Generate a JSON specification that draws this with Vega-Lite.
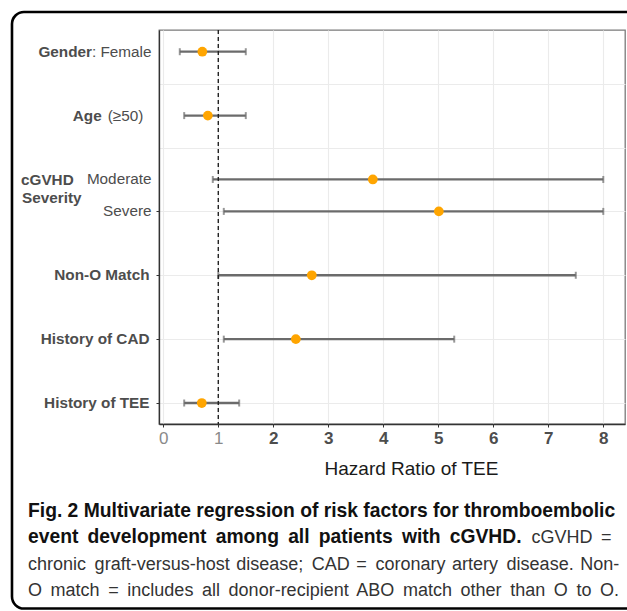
{
  "$schema": "https://vega.github.io/schema/vega-lite/v6.json",
  "width": 466,
  "height": 394,
  "autosize": {"type": "none"},
  "padding": {"left": 159, "top": 30, "right": 2, "bottom": 187},
  "background": "white",
  "config": {
    "view": {"stroke": "#7a7a7a", "strokeWidth": 1.3},
    "font": "Liberation Sans, Arial, sans-serif"
  },
  "data": {
    "values": [
      {"group": "Gender", "level": ": Female", "row": 12, "hr": 0.71, "lo": 0.30, "hi": 1.50},
      {"group": "Age", "level": "(≥50)", "row": 10, "hr": 0.81, "lo": 0.38, "hi": 1.50},
      {"group": "cGVHD Severity", "level": "Moderate", "row": 8, "hr": 3.81, "lo": 0.90, "hi": 8.0},
      {"group": "cGVHD Severity", "level": "Severe", "row": 7, "hr": 5.01, "lo": 1.10, "hi": 8.0},
      {"group": "Non-O Match", "level": "", "row": 5, "hr": 2.70, "lo": 1.00, "hi": 7.50},
      {"group": "History of CAD", "level": "", "row": 3, "hr": 2.41, "lo": 1.10, "hi": 5.29},
      {"group": "History of TEE", "level": "", "row": 1, "hr": 0.70, "lo": 0.38, "hi": 1.38}
    ]
  },
  "layer": [
    {
      "data": {"values": [{"k": "frame"}]},
      "mark": {"type": "rect", "fillOpacity": 0, "stroke": "#000000", "strokeWidth": 2.6, "cornerRadius": 12, "clip": false},
      "encoding": {
        "x": {"datum": -2.751, "type": "quantitative"},
        "x2": {"datum": 8.76},
        "y": {"datum": 13.243, "type": "quantitative"},
        "y2": {"datum": -5.436}
      }
    },
    {
      "mark": {"type": "rule", "color": "#6b6b6b", "strokeWidth": 2.3},
      "encoding": {
        "x": {
          "field": "lo", "type": "quantitative",
          "scale": {"domain": [-0.078, 8.395], "nice": false, "zero": false},
          "axis": {
            "title": "Hazard Ratio of TEE",
            "values": [0, 1, 2, 3, 4, 5, 6, 7, 8],
            "format": "d",
            "grid": true,
            "gridColor": "#ebebeb",
            "gridWidth": 1.1,
            "domainColor": "#333333",
            "domainWidth": 1.3,
            "tickColor": "#333333",
            "tickSize": 3,
            "labelPadding": 3.8,
            "labelFontSize": 17,
            "labelFontWeight": {"condition": {"test": "datum.value >= 2", "value": "bold"}, "value": "normal"},
            "labelColor": {"condition": {"test": "datum.value >= 2", "value": "#4d4d4d"}, "value": "#8a8a8a"},
            "labelFlush": false,
            "labelOverlap": false,
            "titleFontSize": 19,
            "titleFontWeight": "normal",
            "titleColor": "#1a1a1a",
            "titleX": 252,
            "titleY": 50.7,
            "titleBaseline": "alphabetic",
            "titleAlign": "center",
            "titleAnchor": null
          }
        },
        "x2": {"field": "hi"},
        "y": {
          "field": "row", "type": "quantitative",
          "scale": {"domain": [0.343, 12.68], "nice": false, "zero": false},
          "axis": {
            "title": null,
            "values": [1, 2, 3, 4, 5, 6, 7, 8, 9, 10, 11, 12],
            "grid": true,
            "gridColor": "#ebebeb",
            "gridWidth": 1.1,
            "domainColor": "#333333",
            "domainWidth": 1.3,
            "tickColor": {"condition": {"test": "indexof([1, 3, 5, 7, 8, 10, 12], datum.value) >= 0", "value": "#333333"}, "value": "transparent"},
            "tickSize": 3,
            "labels": false
          }
        }
      }
    },
    {
      "mark": {"type": "tick", "orient": "vertical", "color": "#6b6b6b", "size": 7, "thickness": 2},
      "encoding": {
        "x": {"field": "lo", "type": "quantitative"},
        "y": {"field": "row", "type": "quantitative"}
      }
    },
    {
      "mark": {"type": "tick", "orient": "vertical", "color": "#6b6b6b", "size": 7, "thickness": 2},
      "encoding": {
        "x": {"field": "hi", "type": "quantitative"},
        "y": {"field": "row", "type": "quantitative"}
      }
    },
    {
      "data": {"values": [{"ref": 1}]},
      "mark": {"type": "rule", "color": "#222222", "strokeWidth": 1.4, "strokeDash": [4, 3]},
      "encoding": {
        "x": {"field": "ref", "type": "quantitative"}
      }
    },
    {
      "mark": {"type": "point", "filled": true, "color": "#FFA500", "opacity": 1, "size": 95},
      "encoding": {
        "x": {"field": "hr", "type": "quantitative"},
        "y": {"field": "row", "type": "quantitative"}
      }
    },
    {
      "transform": [{"filter": "datum.level != '' && datum.group != 'Age'"}],
      "mark": {"type": "text", "align": "right", "baseline": "middle", "fontWeight": "normal", "fontSize": 15.3, "color": "#4d4d4d", "dx": -7.5, "clip": false},
      "encoding": {"text": {"field": "level"}, "x": {"datum": -0.078}, "y": {"field": "row", "type": "quantitative"}}
    },
    {
      "transform": [{"filter": "datum.group == 'Age'"}],
      "mark": {"type": "text", "align": "right", "baseline": "middle", "fontWeight": "normal", "fontSize": 15.3, "color": "#4d4d4d", "dx": -15.7, "clip": false},
      "encoding": {"text": {"field": "level"}, "x": {"datum": -0.078}, "y": {"field": "row", "type": "quantitative"}}
    },
    {
      "transform": [{"filter": "datum.level == ''"}],
      "mark": {"type": "text", "align": "right", "baseline": "middle", "fontWeight": "bold", "fontSize": 15.3, "color": "#4d4d4d", "dx": -9.5, "clip": false},
      "encoding": {"text": {"field": "group"}, "x": {"datum": -0.078}, "y": {"field": "row", "type": "quantitative"}}
    },
    {
      "data": {"values": [{"t": "Gender"}]},
      "mark": {"type": "text", "align": "right", "baseline": "middle", "fontWeight": "bold", "fontSize": 15.3, "color": "#4d4d4d", "dx": -67, "clip": false},
      "encoding": {"text": {"field": "t"}, "x": {"datum": -0.078}, "y": {"datum": 12}}
    },
    {
      "data": {"values": [{"t": "Age"}]},
      "mark": {"type": "text", "align": "right", "baseline": "middle", "fontWeight": "bold", "fontSize": 15.3, "color": "#4d4d4d", "dx": -57.3, "clip": false},
      "encoding": {"text": {"field": "t"}, "x": {"datum": -0.078}, "y": {"datum": 10}}
    },
    {
      "data": {"values": [{"t": "cGVHD"}]},
      "mark": {"type": "text", "align": "left", "baseline": "alphabetic", "fontWeight": "bold", "fontSize": 15.3, "color": "#4d4d4d", "dx": -138, "dy": 5.4, "clip": false},
      "encoding": {"text": {"field": "t"}, "x": {"datum": -0.078}, "y": {"datum": 8}}
    },
    {
      "data": {"values": [{"t": "Severity"}]},
      "mark": {"type": "text", "align": "left", "baseline": "alphabetic", "fontWeight": "bold", "fontSize": 15.3, "color": "#4d4d4d", "dx": -137, "dy": -8.2, "clip": false},
      "encoding": {"text": {"field": "t"}, "x": {"datum": -0.078}, "y": {"datum": 7}}
    },
    {
      "data": {"values": [{"t": "Fig. 2 Multivariate regression of risk factors for thromboembolic"}]},
      "mark": {"type": "text", "align": "left", "baseline": "alphabetic", "fontWeight": "bold", "fontSize": 19.3, "color": "#111111", "clip": false},
      "encoding": {"text": {"field": "t"}, "x": {"datum": -2.46}, "y": {"datum": -2.558}}
    },
    {
      "data": {"values": [{"t": "event\u2009 development\u2009 among\u2009 all\u2009 patients\u2009 with\u2009 cGVHD."}]},
      "mark": {"type": "text", "align": "left", "baseline": "alphabetic", "fontWeight": "bold", "fontSize": 19.3, "color": "#111111", "clip": false},
      "encoding": {"text": {"field": "t"}, "x": {"datum": -2.46}, "y": {"datum": -3.371}}
    },
    {
      "data": {"values": [{"t": "cGVHD\u2009 ="}]},
      "mark": {"type": "text", "align": "right", "baseline": "alphabetic", "fontWeight": "normal", "fontSize": 18, "color": "#333333", "clip": false},
      "encoding": {"text": {"field": "t"}, "x": {"datum": 8.15}, "y": {"datum": -3.371}}
    },
    {
      "data": {"values": [{"t": "chronic\u2009 graft-versus-host\u200a disease;\u2009 CAD\u200a =\u2009 coronary\u200a artery\u2009 disease.\u200a Non-"}]},
      "mark": {"type": "text", "align": "left", "baseline": "alphabetic", "fontWeight": "normal", "fontSize": 18, "color": "#333333", "clip": false},
      "encoding": {"text": {"field": "t"}, "x": {"datum": -2.46}, "y": {"datum": -4.216}}
    },
    {
      "data": {"values": [{"t": "O\u2009 match\u2009 =\u2009 includes\u2009 all\u2009 donor-recipient\u2009 ABO\u2009 match\u2009 other\u2009 than\u2009 O\u2009 to\u2009 O."}]},
      "mark": {"type": "text", "align": "left", "baseline": "alphabetic", "fontWeight": "normal", "fontSize": 18, "color": "#333333", "clip": false},
      "encoding": {"text": {"field": "t"}, "x": {"datum": -2.46}, "y": {"datum": -5.03}}
    }
  ]
}
